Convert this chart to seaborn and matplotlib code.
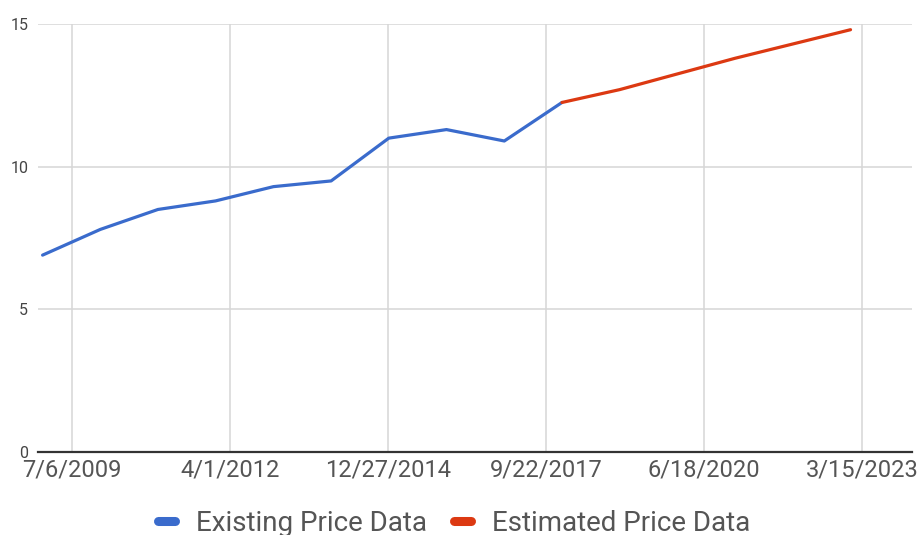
"""
Price history with an estimated trend, drawn in the style of a Sheets line chart.
"""

import matplotlib
matplotlib.use("Agg")
import matplotlib.pyplot as plt
import pandas as pd
import seaborn as sns

# ── Data ──────────────────────────────────────────────────────
existing_dates = ["2009-01-01", "2010-01-01", "2011-01-01", "2012-01-01", "2013-01-01",
                  "2014-01-01", "2015-01-01", "2016-01-01", "2017-01-01", "2018-01-01"]
existing_values = [6.9, 7.8, 8.5, 8.8, 9.3, 9.5, 11.0, 11.3, 10.9, 12.25]

estimated_dates = ["2018-01-01", "2019-01-01", "2020-01-01", "2021-01-01",
                   "2022-01-01", "2023-01-01"]
estimated_values = [12.25, 12.7, 13.25, 13.8, 14.3, 14.8]

series_names = ["Existing Price Data", "Estimated Price Data"]
series_colors = ["#3a6bcc", "#dc3912"]

y_ticks = [0, 5, 10, 15]
x_tick_start = "2009-07-06"
x_tick_step_days = 1000
x_tick_count = 6

df = pd.concat([
    pd.DataFrame({"date": pd.to_datetime(existing_dates), "price": existing_values,
                  "series": series_names[0]}),
    pd.DataFrame({"date": pd.to_datetime(estimated_dates), "price": estimated_values,
                  "series": series_names[1]}),
], ignore_index=True)

# ── Style ─────────────────────────────────────────────────────
sns.set_style("white")
plt.rcParams["font.family"] = ["Roboto", "DejaVu Sans"]

fig = plt.figure(figsize=(9.19, 5.35), dpi=100)
ax = fig.add_axes([38 / 919, 1 - 452 / 535, (912 - 38) / 919, (452 - 24) / 535])

sns.lineplot(data=df, x="date", y="price", hue="series",
             palette=dict(zip(series_names, series_colors)),
             linewidth=2.3, ax=ax, legend=True)
for line in ax.lines:
    line.set_solid_capstyle("round")
    line.set_solid_joinstyle("round")

# ── Axes ──────────────────────────────────────────────────────
x_ticks = pd.date_range(x_tick_start, periods=x_tick_count, freq=f"{x_tick_step_days}D")
ax.set_xticks(x_ticks)
ax.set_xticklabels([f"{d.month}/{d.day}/{d.year}" for d in x_ticks])
ax.set_xlim(pd.Timestamp("2008-12-03"), pd.Timestamp("2024-01-25"))
ax.set_ylim(0, 15)
ax.set_yticks(y_ticks)

ax.grid(True, color="#d6d6d6", linewidth=1.1)
ax.set_axisbelow(True)
for side in ["top", "right", "left"]:
    ax.spines[side].set_visible(False)
ax.spines["bottom"].set_color("#333333")
ax.spines["bottom"].set_linewidth(1.6)
ax.spines["bottom"].set_zorder(5)

ax.tick_params(axis="x", length=0, pad=5, labelsize=17, labelcolor="#555555")
ax.tick_params(axis="y", length=0, pad=7, labelsize=11.5, labelcolor="#444444")
ax.set_xlabel("")
ax.set_ylabel("")

# ── Legend ────────────────────────────────────────────────────
handles, labels = ax.get_legend_handles_labels()
for h in handles:
    h.set_linewidth(6.5)
    h.set_solid_capstyle("round")
ax.legend(handles, labels, loc="center", bbox_to_anchor=(0.494, 0.022),
          bbox_transform=fig.transFigure, ncol=2, frameon=False,
          fontsize=20, handlelength=0.62, handletextpad=0.75, columnspacing=0.95,
          labelcolor="#555555")

fig.savefig("out.png", dpi=100)
plt.close(fig)
